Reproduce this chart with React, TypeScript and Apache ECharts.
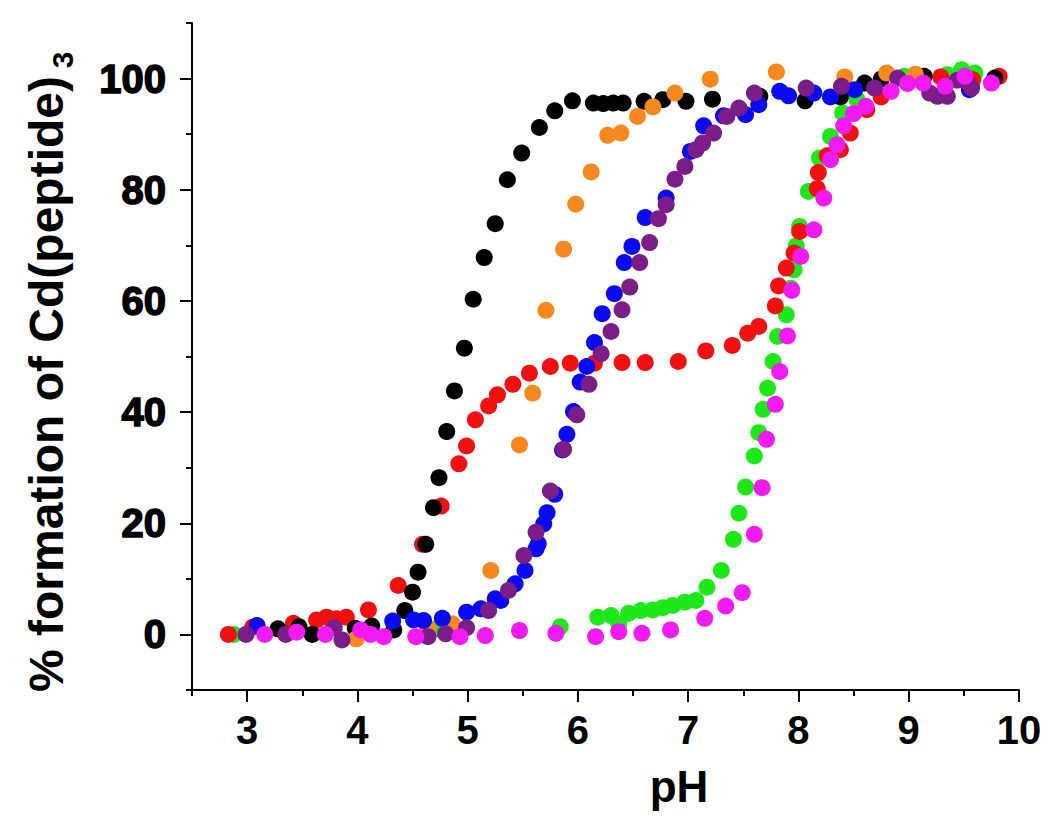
import React, { useEffect, useRef } from "react";
import * as echarts from "echarts";

// ---- data: [pH, % formation] ----
const greenPts = [
  [2.88, 0], [4.72, 1.0], [5.84, 1.4], [6.18, 3.1], [6.3, 3.4], [6.37, 1.9], [6.46, 3.8], [6.57, 4.3],
  [6.68, 4.4], [6.77, 4.8], [6.86, 5.2], [6.97, 5.8], [7.07, 6.1], [7.17, 8.5], [7.3, 11.5], [7.41, 17.1],
  [7.46, 21.8], [7.52, 26.5], [7.6, 32.1], [7.64, 36.3], [7.68, 40.5], [7.72, 44.3], [7.77, 49.1],
  [7.81, 53.6], [7.89, 57.5], [7.93, 62.3], [7.96, 65.6], [7.98, 69.9], [8.01, 73.4], [8.09, 79.7],
  [8.19, 85.7], [8.29, 89.6], [8.4, 93.8], [8.53, 96.3], [8.96, 100.4], [9.35, 100.7], [9.48, 101.6], [9.6, 101.0],
];
const redPts = [
  [2.83, 0], [3.05, 1.3], [3.42, 2.0], [3.63, 2.6], [3.72, 3.1], [3.81, 2.8], [3.9, 3.1], [4.1, 4.4],
  [4.37, 8.8], [4.59, 16.2], [4.76, 23.1], [4.92, 30.7], [4.99, 33.9], [5.07, 38.6], [5.19, 41.1],
  [5.27, 43.1], [5.41, 45.0], [5.56, 47.0], [5.75, 48.2], [5.93, 48.8], [6.15, 48.8], [6.4, 48.9],
  [6.61, 48.9], [6.91, 49.1], [7.16, 51.0], [7.4, 52.0], [7.54, 54.2], [7.64, 55.4], [7.79, 59.1],
  [7.82, 62.7], [7.89, 65.9], [7.96, 68.6], [8.01, 72.5], [8.17, 80.2], [8.18, 83.1], [8.26, 86.1],
  [8.38, 87.2], [8.47, 90.2], [8.62, 94.4], [8.75, 96.7], [9.29, 100.3], [9.58, 99.8], [9.82, 100.4],
];
const blackPts = [
  [3.28, 1.0], [3.47, 1.4], [3.59, 0], [3.98, 1.1], [4.13, 1.5], [4.33, 0.8], [4.43, 4.3], [4.5, 7.6],
  [4.55, 11.2], [4.62, 16.2], [4.69, 22.8], [4.74, 28.2], [4.81, 36.5], [4.88, 43.8], [4.97, 51.5],
  [5.05, 60.3], [5.15, 67.8], [5.25, 73.9], [5.36, 81.8], [5.49, 86.6], [5.65, 91.2], [5.79, 94.2],
  [5.95, 96.0], [6.14, 95.6], [6.23, 95.5], [6.32, 95.6], [6.41, 95.6], [6.6, 95.9], [6.77, 96.2],
  [6.98, 95.9], [7.22, 96.3], [7.65, 96.8], [8.06, 96.0], [8.38, 96.7], [8.6, 99.2], [8.75, 99.9],
  [9.14, 100.4], [9.78, 100.1],
];
const orangePts = [
  [3.99, -0.8], [4.64, 1.1], [4.86, 1.9], [5.21, 11.5], [5.47, 34.1], [5.59, 43.4], [5.71, 58.3],
  [5.87, 69.3], [5.98, 77.4], [6.12, 83.2], [6.27, 89.8], [6.39, 90.2], [6.54, 93.2], [6.68, 94.9],
  [6.88, 97.4], [7.2, 99.9], [7.8, 101.2], [8.42, 100.3], [8.8, 101.0], [9.06, 100.8],
];
const bluePts = [
  [3.09, 1.6], [4.32, 2.4], [4.51, 2.6], [4.6, 2.5], [4.77, 2.9], [4.99, 4.0], [5.12, 4.6], [5.25, 6.4],
  [5.3, 6.1], [5.43, 9.1], [5.52, 11.5], [5.62, 15.4], [5.64, 16.3], [5.69, 19.9], [5.72, 21.9],
  [5.79, 25.2], [5.86, 33.2], [5.9, 36.0], [5.96, 40.1], [6.02, 45.4], [6.08, 48.2], [6.15, 52.5],
  [6.22, 57.7], [6.33, 61.3], [6.42, 66.9], [6.49, 69.8], [6.61, 75.0], [6.8, 78.5], [7.02, 86.9],
  [7.14, 91.5], [7.32, 93.3], [7.52, 93.5], [7.64, 95.3], [7.83, 97.7], [7.91, 96.9], [8.14, 97.4],
  [8.29, 96.7], [8.51, 98.0], [9.55, 98.0],
];
const purplePts = [
  [2.99, 0], [3.35, 0], [3.79, 1.2], [3.86, -1.0], [4.64, -0.4], [4.8, 0.1], [4.99, 1.2], [5.19, 4.3],
  [5.37, 7.9], [5.51, 14.2], [5.62, 18.4], [5.75, 25.8], [5.87, 33.3], [5.99, 39.5], [6.1, 45.0],
  [6.21, 50.5], [6.3, 54.5], [6.4, 58.4], [6.47, 62.5], [6.56, 66.9], [6.65, 70.5], [6.73, 74.8],
  [6.8, 77.3], [6.88, 81.9], [6.97, 84.2], [7.07, 87.2], [7.13, 88.4], [7.23, 90.2], [7.35, 93.2],
  [7.46, 94.7], [7.6, 97.4], [8.07, 98.3], [8.39, 98.6], [8.69, 98.3], [8.9, 100.1], [9.19, 97.4],
  [9.26, 96.8], [9.35, 96.8], [9.44, 99.7], [9.53, 99.4], [9.57, 98.3],
];
const magentaPts = [
  [3.16, 0], [3.45, 0.4], [3.71, 0], [4.03, 0.8], [4.12, 0], [4.24, -0.4], [4.53, -0.4], [4.93, -0.4],
  [5.16, -0.2], [5.47, 0.7], [5.8, 0.2], [6.16, -0.4], [6.37, 0.5], [6.58, 0.2], [6.84, 0.8], [7.15, 2.9],
  [7.34, 5.1], [7.49, 7.5], [7.6, 18.0], [7.67, 26.4], [7.71, 35.1], [7.79, 41.4], [7.83, 47.3],
  [7.9, 53.7], [7.94, 61.9], [8.02, 68.0], [8.14, 72.8], [8.23, 78.5], [8.29, 85.4], [8.35, 88.1],
  [8.41, 91.5], [8.5, 93.7], [8.61, 95.0], [8.84, 97.7], [8.99, 99.1], [9.13, 99.2], [9.33, 98.6],
  [9.51, 100.4], [9.75, 99.2],
];

const xMajorTicks = [3, 4, 5, 6, 7, 8, 9, 10];
const xMinorTicks = [2.5, 3.5, 4.5, 5.5, 6.5, 7.5, 8.5, 9.5];
const yMajorTicks = [0, 20, 40, 60, 80, 100];
const yMinorTicks = [-10, 10, 30, 50, 70, 90, 110];

const seriesDefs = [
  { name: "green", color: "#1ee81a", data: greenPts },
  { name: "red", color: "#f01010", data: redPts },
  { name: "black", color: "#000000", data: blackPts },
  { name: "orange", color: "#f7881e", data: orangePts },
  { name: "blue", color: "#0a0af2", data: bluePts },
  { name: "purple", color: "#7b1d88", data: purplePts },
  { name: "magenta", color: "#f21af2", data: magentaPts },
];

const FONT = "'Liberation Sans', Arial, Helvetica, sans-serif";

export default function App() {
  const ref = useRef<HTMLDivElement>(null);
  useEffect(() => {
    document.body.style.margin = "0";
    if (!ref.current) return;
    const chart = echarts.init(ref.current, null, { renderer: "svg" });
    const axisLine = { show: true, onZero: false, lineStyle: { color: "#000", width: 2 } };
    const tickStyle = { color: "#000", width: 2 };
    chart.setOption({
      animation: false,
      backgroundColor: "#ffffff",
      grid: { left: 192, right: 31, top: 23, bottom: 135, containLabel: false },
      xAxis: [
        {
          type: "value", min: 2.5, max: 10, position: "bottom",
          axisLine,
          axisTick: { show: true, inside: false, length: 12, lineStyle: tickStyle, customValues: xMajorTicks },
          axisLabel: {
            customValues: xMajorTicks, margin: 20, color: "#000", fontFamily: FONT,
            fontWeight: "bold", fontSize: 40,
          },
          splitLine: { show: false },
        },
        {
          type: "value", min: 2.5, max: 10, position: "bottom", offset: 0,
          axisLine: { show: false, onZero: false },
          axisTick: { show: true, inside: false, length: 6, lineStyle: tickStyle, customValues: xMinorTicks },
          axisLabel: { show: false },
          splitLine: { show: false },
        },
      ],
      yAxis: [
        {
          type: "value", min: -10, max: 110, position: "left",
          axisLine,
          axisTick: { show: true, inside: false, length: 12, lineStyle: tickStyle, customValues: yMajorTicks },
          axisLabel: {
            customValues: yMajorTicks, margin: 26, color: "#000", fontFamily: FONT,
            fontWeight: "bold", fontSize: 40, textBorderColor: "#000", textBorderWidth: 1.5,
          },
          splitLine: { show: false },
        },
        {
          type: "value", min: -10, max: 110, position: "left", offset: 0,
          axisLine: { show: false, onZero: false },
          axisTick: { show: true, inside: false, length: 6, lineStyle: tickStyle, customValues: yMinorTicks },
          axisLabel: { show: false },
          splitLine: { show: false },
        },
      ],
      series: seriesDefs.map((s) => ({
        name: s.name,
        type: "scatter",
        xAxisIndex: 0,
        yAxisIndex: 0,
        symbol: "circle",
        symbolSize: 17,
        itemStyle: { color: s.color, opacity: 1 },
        data: s.data,
      })),
      graphic: [
        {
          type: "text", x: 46, y: 384, rotation: Math.PI / 2,
          style: {
            text: "% formation of Cd(peptide)", fill: "#000", font: `bold 48px ${FONT}`,
            align: "center", verticalAlign: "middle",
          },
        },
        {
          type: "text", x: 62, y: 60, rotation: Math.PI / 2,
          style: {
            text: "3", fill: "#000", font: `bold 30px ${FONT}`,
            align: "center", verticalAlign: "middle",
          },
        },
        {
          type: "text", x: 679, y: 786,
          style: {
            text: "pH", fill: "#000", font: `bold 44px ${FONT}`,
            align: "center", verticalAlign: "middle",
          },
        },
      ],
    });
    return () => chart.dispose();
  }, []);
  return <div ref={ref} style={{ width: 1050, height: 825 }} />;
}
